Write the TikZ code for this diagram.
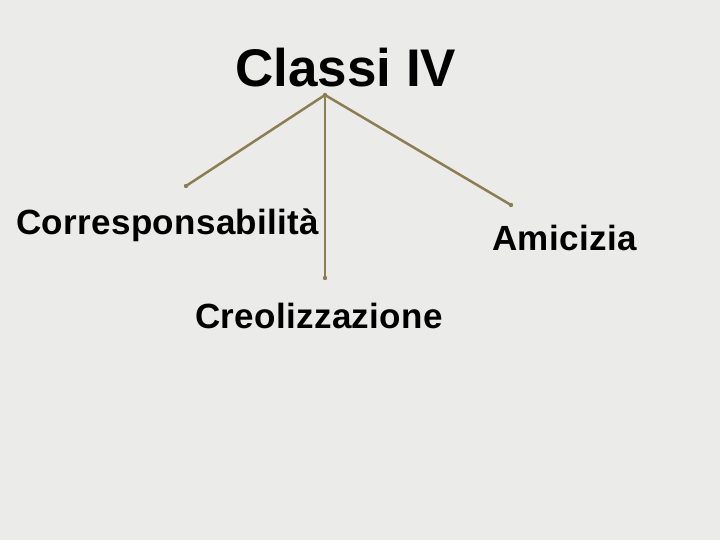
\documentclass[tikz,border=0pt]{standalone}
\usepackage{fontspec}
\setmainfont{Liberation Sans}
\newfontfamily\lblfont[LetterSpace=1.0]{Liberation Sans}
\definecolor{bg}{HTML}{EBEBE9}
\definecolor{branch}{HTML}{8C7E50}
\begin{document}
\begin{tikzpicture}[x=1pt,y=-1pt,
  lbl/.style={anchor=base west,inner sep=0pt,font=\lblfont\bfseries\fontsize{35}{40}\selectfont},
  ttl/.style={anchor=base west,inner sep=0pt,font=\bfseries\fontsize{53}{60}\selectfont},
  branchline/.style={draw=branch,line width=2.5pt},
  enddot/.style={fill=branch}]
\fill[bg] (0,0) rectangle (720,540);
\useasboundingbox (0,0) rectangle (720,540);
\node[ttl] (title) at (235,87) {Classi IV};
\node[lbl] (corr) at (16,234) {Corresponsabilità};
\node[lbl] (creo) at (195,328) {Creolizzazione};
\node[lbl] (amic) at (492,250) {Amicizia};
\coordinate (apex) at (325,95);
\coordinate (eL) at (186,186);
\coordinate (eM) at (325,278);
\coordinate (eR) at (511,205);
\draw[branchline] (apex) -- (eL);
\draw[branchline] (apex) -- (eM);
\draw[branchline] (apex) -- (eR);
\foreach \p in {apex,eL,eM,eR} \fill[enddot] (\p) circle (2.2pt);
\end{tikzpicture}
\end{document}
